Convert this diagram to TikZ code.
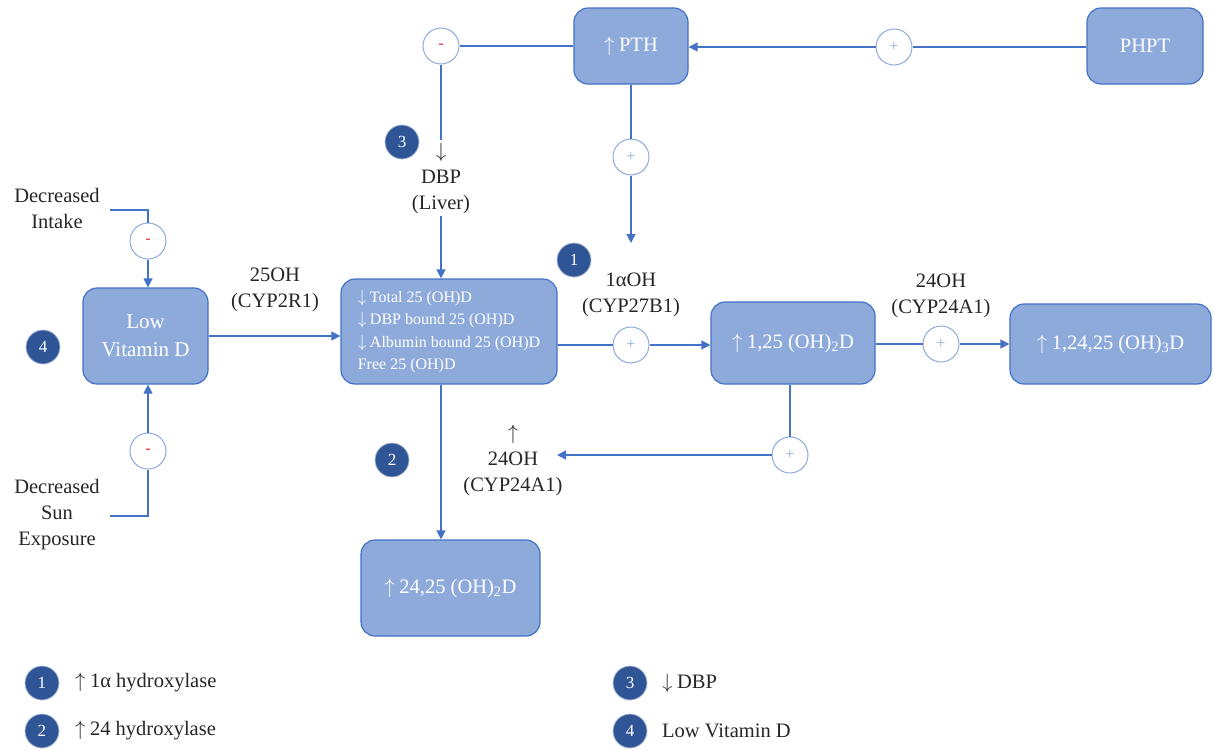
\documentclass[tikz,border=0pt]{standalone}
\usepackage{fontspec}
\setmainfont{Liberation Serif}
\newcommand{\uparr}{$\uparrow$\hspace{0.22em}}
\newcommand{\dnarr}{$\downarrow$\hspace{0.22em}}
\usetikzlibrary{arrows.meta}
\definecolor{boxfill}{HTML}{8EAADB}
\definecolor{boxline}{HTML}{4472C4}
\definecolor{badgec}{HTML}{2F5597}
\definecolor{circline}{HTML}{8EAADB}
\definecolor{minusred}{HTML}{E03030}
\definecolor{txt}{HTML}{262626}
\begin{document}
\begin{tikzpicture}[x=1pt,y=-1pt,
 box/.style={draw=boxline,fill=boxfill,line width=1.2pt,rounded corners=14pt,text=white,font=\fontsize{20.5}{26}\selectfont,align=center,inner sep=0pt},
 sign/.style={circle,draw=circline,fill=white,line width=1pt,minimum size=36pt,inner sep=0pt,text=circline,font=\fontsize{16}{16}\selectfont},
 neg/.style={sign,text=minusred},
 badge/.style={circle,fill=badgec,draw=badgec!40,line width=0.8pt,minimum size=34pt,inner sep=0pt,text=white,font=\fontsize{17}{17}\selectfont},
 lbl/.style={align=center,text=txt,font=\fontsize{20.5}{26}\selectfont,inner sep=1pt},
 leg/.style={anchor=west,text=txt,font=\fontsize{20.5}{22}\selectfont,inner sep=0pt},
 conn/.style={draw=boxline,line width=1.4pt},
 arr/.style={conn,-{Triangle[length=9pt,width=9pt]}}
]
\useasboundingbox (0,0) rectangle (1213,750);
% boxes
\node[box,minimum width=114pt,minimum height=76pt] (pth) at (631,46) {\uparr PTH};
\node[box,minimum width=116pt,minimum height=76pt] (phpt) at (1145,46) {PHPT};
\node[box,minimum width=125pt,minimum height=96pt,font=\fontsize{21}{28}\selectfont] (lowd) at (145.5,336) {Low\\Vitamin D};
\node[box,minimum width=216pt,minimum height=105pt,align=left,font=\fontsize{16}{22.5}\selectfont] (d25) at (449,331.5) {\dnarr Total 25 (OH)D\\\dnarr DBP bound 25 (OH)D\\\dnarr Albumin bound 25 (OH)D\\Free 25 (OH)D};
\node[box,minimum width=164pt,minimum height=82pt] (d125) at (793,343) {\uparr 1,25 (OH)\textsubscript{2}D};
\node[box,minimum width=201pt,minimum height=80pt] (d12425) at (1110.5,344) {\uparr 1,24,25 (OH)\textsubscript{3}D};
\node[box,minimum width=179pt,minimum height=96pt] (d2425) at (450.5,588) {\uparr 24,25 (OH)\textsubscript{2}D};
% sign circles
\node[neg] (m1) at (441,46) {-};
\node[sign] (p1) at (894,47) {+};
\node[sign] (p2) at (631,157) {+};
\node[neg] (m2) at (148,241) {-};
\node[neg] (m3) at (148,451) {-};
\node[sign] (p3) at (631,345) {+};
\node[sign] (p4) at (941,344) {+};
\node[sign] (p5) at (790,455) {+};
% free ends
\coordinate (pthend) at (631,243);
\coordinate (cypend) at (557,458);
\coordinate (intk) at (110,210);
\coordinate (sun) at (110,516);
% connectors
\draw[conn] (phpt.west |- p1) -- (p1.east);
\draw[arr] (p1.west) -- (pth.east |- p1);
\draw[conn] (pth.west) -- (m1.east);
\draw[arr] (m1.south) -- (m1 |- d25.north);
\draw[conn] (pth.south) -- (p2.north);
\draw[arr] (p2.south) -- (pthend);
\draw[conn] (intk) -- (intk -| m2) -- (m2.north);
\draw[arr] (m2.south) -- (m2 |- lowd.north);
\draw[conn] (sun) -- (sun -| m3) -- (m3.south);
\draw[arr] (m3.north) -- (m3 |- lowd.south);
\draw[arr] (lowd.east) -- (lowd.east -| d25.west);
\draw[conn] (d25.east |- p3) -- (p3.west);
\draw[arr] (p3.east) -- (p3 -| d125.west);
\draw[conn] (d125.east |- p4) -- (p4.west);
\draw[arr] (p4.east) -- (p4 -| d12425.west);
\draw[conn] (p5 |- d125.south) -- (p5.north);
\draw[arr] (p5.west) -- (cypend |- p5);
\draw[arr] (m1 |- d25.south) -- (m1 |- d2425.north);
% labels
\node[lbl,fill=white,inner sep=3pt] (dbp) at (441,178) {$\downarrow$\\DBP\\(Liver)};
\node[lbl] (lint) at (57,208.5) {Decreased\\Intake};
\node[lbl] (lsun) at (57,515) {Decreased\\Sun\\Exposure};
\node[lbl] (l25) at (275,290) {25OH\\(CYP2R1)};
\node[lbl] (l1a) at (631,294.5) {1αOH\\(CYP27B1)};
\node[lbl] (l24) at (941,296) {24OH\\(CYP24A1)};
\node[lbl] (l24b) at (513,460) {$\uparrow$\\24OH\\(CYP24A1)};
% badges
\node[badge] (b3) at (402,142) {3};
\node[badge] (b1) at (574,260) {1};
\node[badge] (b4) at (43,347) {4};
\node[badge] (b2) at (392,460) {2};
% legend
\node[badge] (lb1) at (42,683) {1};
\node[badge] (lb2) at (42,731) {2};
\node[badge] (lb3) at (630,683) {3};
\node[badge] (lb4) at (630,731) {4};
\node[leg] (lt1) at (75,683) {\uparr 1α hydroxylase};
\node[leg] (lt2) at (75,731) {\uparr 24 hydroxylase};
\node[leg] (lt3) at (662,683) {\dnarr DBP};
\node[leg] (lt4) at (662,731) {Low Vitamin D};
\end{tikzpicture}
\end{document}
